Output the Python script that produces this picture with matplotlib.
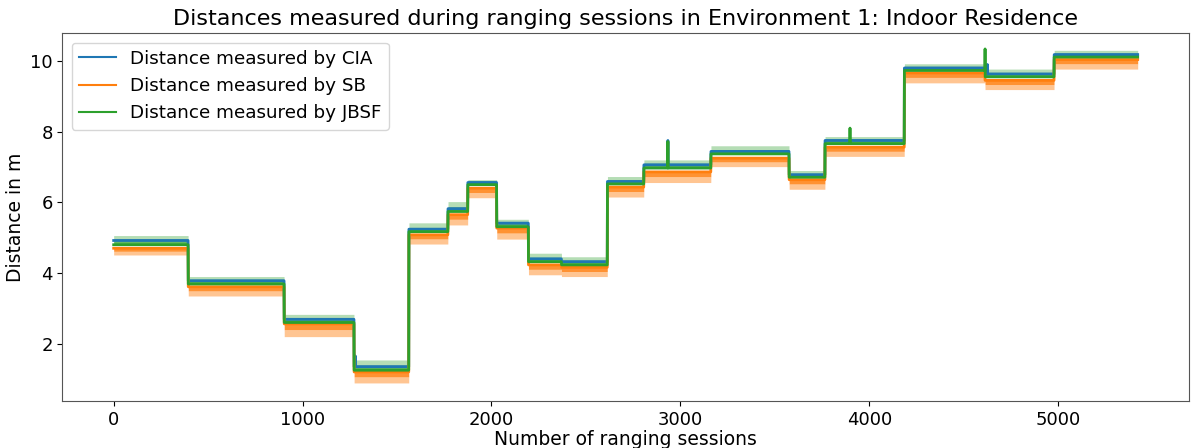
import matplotlib.pyplot as plt
import numpy as np

# first session of every constant-distance stretch, and total number of sessions
seg_start = [0, 395, 903, 1273, 1563, 1770, 1875, 2028, 2196, 2371, 2614, 2807,
             3162, 3576, 3766, 4186, 4613, 4979]
n_sessions = 5422

# typical level per stretch (m)
cia_level = [4.92, 3.78, 2.69, 1.35, 5.24, 5.82, 6.56, 5.41, 4.40, 4.32, 6.59, 7.06,
             7.44, 6.78, 7.75, 9.80, 9.63, 10.18]
sb_level = [4.70, 3.61, 2.56, 1.20, 5.08, 5.65, 6.40, 5.27, 4.23, 4.16, 6.43, 6.86,
            7.25, 6.64, 7.56, 9.66, 9.45, 10.04]
jbsf_level = [4.80, 3.69, 2.60, 1.25, 5.17, 5.74, 6.50, 5.31, 4.32, 4.23, 6.52, 6.97,
              7.37, 6.71, 7.66, 9.73, 9.55, 10.11]

# spread of the measurements inside each stretch
cia_high = [4.97, 3.83, 2.74, 1.40, 5.29, 5.87, 6.61, 5.46, 4.45, 4.37, 6.64, 7.11,
            7.49, 6.83, 7.80, 9.85, 9.68, 10.23]
sb_low = [4.51, 3.35, 2.20, 0.89, 4.82, 5.36, 6.13, 4.96, 3.95, 3.90, 6.15, 6.56,
          7.01, 6.37, 7.30, 9.38, 9.19, 9.77]
jbsf_high = [5.06, 3.90, 2.83, 1.54, 5.42, 6.02, 6.64, 5.52, 4.56, 4.46, 6.73, 7.20,
             7.60, 6.90, 7.86, 9.92, 9.77, 10.30]

# single outliers: (session, distance)
cia_spikes = [(1280, 1.65), (2934, 7.75), (4625, 9.90)]
jbsf_spikes = [(2934, 7.72), (3898, 8.10), (4613, 10.34)]

lengths = np.diff(seg_start + [n_sessions])
x = np.arange(n_sessions)


def expand(vals):
    return np.repeat(np.array(vals, dtype=float), lengths)


def with_spikes(arr, spikes):
    arr = arr.copy()
    for s, v in spikes:
        arr[s] = v
    return arr


def spread(ax, level, edge, color, dense, sparse):
    # dense core close to the level, fainter outer part up to the extreme values
    lv, ed = expand(level), expand(edge)
    mid = lv + 0.45 * (ed - lv)
    ax.fill_between(x, lv, mid, color=color, alpha=dense, lw=0)
    ax.fill_between(x, mid, ed, color=color, alpha=sparse, lw=0)


blue, orange, green = "#1f77b4", "#ff7f0e", "#2ca02c"

fig = plt.figure(figsize=(11.92, 4.48), dpi=100)
ax = fig.add_axes([0.0524, 0.105, 0.945, 0.8205])

spread(ax, cia_level, cia_high, blue, 0.9, 0.6)
ax.plot(x, with_spikes(expand(cia_level), cia_spikes), color=blue, lw=2,
        label="Distance measured by CIA")

spread(ax, sb_level, sb_low, orange, 0.85, 0.45)
ax.plot(x, expand(sb_level), color=orange, lw=2, label="Distance measured by SB")

spread(ax, jbsf_level, jbsf_high, green, 0.75, 0.35)
ax.plot(x, with_spikes(expand(jbsf_level), jbsf_spikes), color=green, lw=2,
        label="Distance measured by JBSF")

ax.set_ylim(0.38, 10.78)
ax.set_title("Distances measured during ranging sessions in Environment 1: Indoor Residence",
             fontsize=16)
ax.set_xlabel("Number of ranging sessions", fontsize=13.5, labelpad=1)
ax.set_ylabel("Distance in m", fontsize=13.5)
ax.tick_params(labelsize=13)
for sp in ax.spines.values():
    sp.set_color("#555555")
leg = ax.legend(loc="upper left", fontsize=13.2)
for ln in leg.get_lines():
    ln.set_linewidth(1.5)

fig.savefig("out.png")
